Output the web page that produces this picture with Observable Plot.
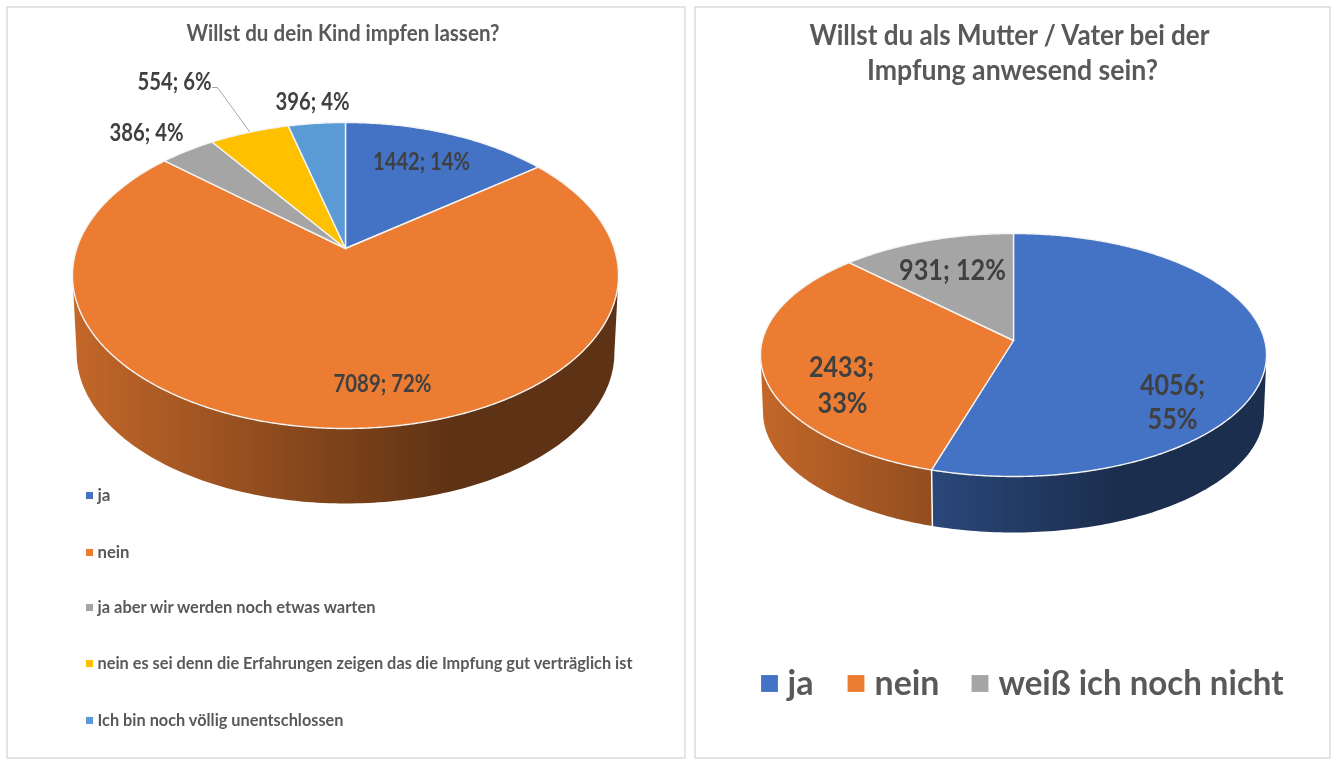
<!DOCTYPE html>
<html><head><meta charset="utf-8">
<script src="https://cdn.jsdelivr.net/npm/d3@7"></script>
<script src="https://cdn.jsdelivr.net/npm/@observablehq/plot@0.6"></script>
<style>html,body{margin:0;padding:0;background:#fff}svg{display:block;filter:blur(.4px)}</style>
</head><body><div id="chart"></div>
<script>
const kindCategories = ["ja","nein","ja aber wir werden noch etwas warten","nein es sei denn die Erfahrungen zeigen das die Impfung gut verträglich ist","Ich bin noch völlig unentschlossen"];
const kindValues = [1442,7089,386,554,396];
const kindColors = ["#4472c4","#eb7c31","#a5a5a5","#ffc000","#5b9bd5"];
const elternCategories = ["ja","nein","weiß ich noch nicht"];
const elternValues = [4056,2433,931];
const elternColors = ["#4472c4","#eb7c31","#a5a5a5"];

const FONT = "Lato,'Liberation Sans',sans-serif";
const pies = [
  {id:"kind", values:kindValues, colors:kindColors, cx:345, cy:248, up:126, down:180, halfW:273, wallFront:503, shrink:.985},
  {id:"eltern", values:elternValues, colors:elternColors, cx:1013, cy:340, up:107, down:136, halfW:253, wallFront:532, shrink:.99}
];
function project(p){
  const ry = 2*p.up*p.down/(p.up+p.down), k = ry/p.up-1, A = p.halfW*Math.sqrt(1-k*k);
  const cyb = p.wallFront - p.down*p.shrink;
  return {
    k,
    top:a=>{const u=Math.sin(a),v=Math.cos(a),d=1+k*v;return [p.cx+A*u/d,p.cy-ry*v/d];},
    bot:a=>{const u=Math.sin(a),v=Math.cos(a),d=1+k*v;return [p.cx+p.shrink*A*u/d,cyb-p.shrink*ry*v/d];}
  };
}
const topPts=[], wallPts=[], edgeWall=[], gradients=[];
for(const p of pies){
  const P=project(p), total=d3.sum(p.values);
  const LIMIT=Math.acos(-P.k);
  let acc=0;
  p.values.forEach((val,i)=>{
    const a0=acc/total*2*Math.PI; acc+=val; const a1=acc/total*2*Math.PI;
    const id=p.id+"-"+i;
    const b0=Math.max(a0,LIMIT), b1=Math.min(a1,2*Math.PI-LIMIT);
    if(b1>b0){
      const c=d3.rgb(p.colors[i]), mix=m=>d3.rgb(c.r*m,c.g*m,c.b*m).formatHex();
      gradients.push({id:"wall-"+id,x1:p.cx-p.halfW,x2:p.cx+p.halfW,from:mix(.83),to:mix(.4)});
      const fill="url(#wall-"+id+")";
      const n=Math.ceil((b1-b0)*180/Math.PI);
      const upper=d3.range(n+1).map(s=>P.top(b0+(b1-b0)*s/n));
      const lower=d3.range(n+1).map(s=>P.bot(b1-(b1-b0)*s/n));
      [...upper,...lower].forEach(pt=>wallPts.push({x:pt[0],y:pt[1],id,fill}));
    }
    if(a0>LIMIT && a0<2*Math.PI-LIMIT) [P.top(a0),P.bot(a0)].forEach(pt=>edgeWall.push({x:pt[0],y:pt[1],id}));
    const n=Math.ceil((a1-a0)*360/Math.PI);
    topPts.push({x:p.cx,y:p.cy,id,col:p.colors[i]});
    for(let s=0;s<=n;s++){
      const pt=P.top(a0+(a1-a0)*s/n);
      topPts.push({x:pt[0],y:pt[1],id,col:p.colors[i]});
    }
    topPts.push({x:p.cx,y:p.cy,id,col:p.colors[i]});
  });
}
const panels=[{x1:7,x2:685,y1:7,y2:758},{x1:695,x2:1330,y1:7,y2:758}];
const leader=[{x:212,y:87},{x:217,y:87},{x:249,y:131}];
const titles=[
 {t:"Willst du dein Kind impfen lassen?",x:342.5,y:33,s:23,w:313},
 {t:"Willst du als Mutter / Vater bei der",x:1009,y:36,s:28,w:400},
 {t:"Impfung anwesend sein?",x:1012,y:71,s:28,w:291}];
const dataLabels=[
 {t:"1442; 14%",x:421,y:162,s:24,w:97},
 {t:"7089; 72%",x:382,y:384,s:24,w:98},
 {t:"386; 4%",x:146,y:133,s:24,w:74},
 {t:"554; 6%",x:174,y:82,s:24,w:74},
 {t:"396; 4%",x:312,y:102,s:24,w:74},
 {t:"931; 12%",x:952,y:270,s:29,w:107},
 {t:"2433;",x:841,y:367,s:29,w:65},
 {t:"33%",x:842,y:403,s:29,w:50},
 {t:"4056;",x:1172,y:385,s:29,w:65},
 {t:"55%",x:1172,y:419,s:29,w:50}];
const legendLeft=kindCategories.map((t,i)=>({t,x:97,y:[495,552,607,663,720][i],col:kindColors[i],sx:89,w:[13,32,278,535,246][i]}));
const legendRight=elternCategories.map((t,i)=>({t,x:[787,874,998][i],y:683,col:elternColors[i],sx:[769,855.5,979.5][i],w:[26,65,285][i]}));

const defs=()=>{
  const d=d3.create("svg:defs");
  for(const g of gradients){
    const lg=d.append("linearGradient").attr("id",g.id).attr("gradientUnits","userSpaceOnUse")
      .attr("x1",g.x1).attr("x2",g.x2).attr("y1",0).attr("y2",0);
    lg.append("stop").attr("offset","0%").attr("stop-color",g.from);
    lg.append("stop").attr("offset","70%").attr("stop-color",g.to);
    lg.append("stop").attr("offset","100%").attr("stop-color",g.to);
  }
  return d.node();
};
const plot=Plot.plot({
  width:1336,height:762,margin:0,
  style:{background:"#fff"},
  x:{domain:[0,1336],range:[0,1336],axis:null},
  y:{domain:[0,762],range:[0,762],axis:null},
  color:{type:"identity"},
  marks:[
    defs,
    Plot.rect(panels,{x1:"x1",x2:"x2",y1:"y1",y2:"y2",fill:"#fff",stroke:"#dcdcdc",strokeWidth:1.5}),
    Plot.line(wallPts,{x:"x",y:"y",z:"id",fill:"fill",curve:"linear-closed"}),
    Plot.line(edgeWall,{x:"x",y:"y",z:"id",stroke:"#fff",strokeWidth:1.5}),
    Plot.line(topPts,{x:"x",y:"y",z:"id",fill:"col",stroke:"#f4f4f4",strokeWidth:1.4,strokeLinejoin:"round"}),
    Plot.line(leader,{x:"x",y:"y",stroke:"#a6a6a6",strokeWidth:1}),
    Plot.text(titles,{x:"x",y:"y",text:"t",fontSize:"s",fontWeight:700,fontFamily:FONT,fill:"#595959"}),
    Plot.text(dataLabels,{x:"x",y:"y",text:"t",fontSize:"s",fontWeight:700,fontFamily:FONT,fill:"#404040"}),
    Plot.dot(legendLeft,{x:"sx",y:"y",symbol:"square",r:4,fill:"col"}),
    Plot.text(legendLeft,{x:"x",y:"y",text:"t",textAnchor:"start",fontSize:17,fontWeight:700,fontFamily:FONT,fill:"#595959"}),
    Plot.dot(legendRight,{x:"sx",y:"y",symbol:"square",r:9.5,fill:"col"}),
    Plot.text(legendRight,{x:"x",y:"y",text:"t",textAnchor:"start",fontSize:35,fontWeight:700,fontFamily:FONT,fill:"#595959"})
  ]
});
const lookup=[...titles,...dataLabels,...legendLeft,...legendRight];
d3.select(plot).selectAll("text").each(function(){
  const t=this.textContent, x=+(this.getAttribute("transform")||"").replace(/translate\(([\d.]+).*/,"$1");
  const m=lookup.find(d=>d.t===t&&Math.abs(d.x-x)<2);
  if(m){this.setAttribute("textLength",m.w);this.setAttribute("lengthAdjust","spacingAndGlyphs");}
});
document.getElementById("chart").append(plot);
</script></body></html>
